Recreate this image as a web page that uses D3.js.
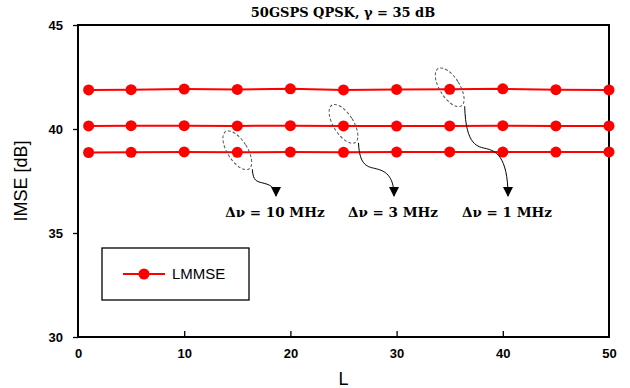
<!DOCTYPE html>
<html>
<head>
<meta charset="utf-8">
<script src="https://cdn.jsdelivr.net/npm/d3@7"></script>
<style>
body { margin: 0; background: #fff; }
svg text { fill: #000; }
</style>
</head>
<body>
<div id="chart"></div>
<script>
// L values and IMSE [dB] for the three linewidths
var Lvals = [1, 5, 10, 15, 20, 25, 30, 35, 40, 45, 50];
var imse1MHz = [41.88, 41.89, 41.92, 41.90, 41.93, 41.88, 41.90, 41.91, 41.93, 41.89, 41.88];
var imse3MHz = [40.15, 40.16, 40.16, 40.15, 40.16, 40.15, 40.14, 40.15, 40.16, 40.15, 40.15];
var imse10MHz = [38.87, 38.88, 38.90, 38.88, 38.89, 38.88, 38.89, 38.90, 38.89, 38.89, 38.90];
var xTicks = [0, 10, 20, 30, 40, 50];
var yTicks = [30, 35, 40, 45];
// annotations: which point is circled, and label
var notes = [
  {label: "Δν = 10 MHz", series: 2, idx: 3},
  {label: "Δν = 3 MHz", series: 1, idx: 5},
  {label: "Δν = 1 MHz", series: 0, idx: 7}
];

var w = 630, h = 388;
var pLeft = 78, pRight = 609, pTop = 25, pBottom = 337;

var svg = d3.select("#chart").append("svg")
  .attr("width", w).attr("height", h);

var xScale = d3.scaleLinear().domain([0, 50]).range([pLeft, pRight]);
var yScale = d3.scaleLinear().domain([30, 45]).range([pBottom, pTop]);

var allSeries = [imse1MHz, imse3MHz, imse10MHz];

//Create X axis (ticks pointing up inside)
var xAxis = d3.axisBottom(xScale).tickValues(xTicks).tickSizeInner(-6).tickSizeOuter(0).tickPadding(12);
var gx = svg.append("g")
  .attr("transform", "translate(0," + pBottom + ")")
  .call(xAxis);
gx.select(".domain").remove();
gx.selectAll("line").attr("stroke", "#000").attr("stroke-width", 1.3)
  .filter(function(d) { return d == 0 || d == 50; }).remove();
gx.selectAll("text")
  .attr("font-family", "Liberation Sans, Arial, sans-serif")
  .attr("font-weight", "bold").attr("font-size", 13);

//Create Y axis
var yAxis = d3.axisLeft(yScale).tickValues(yTicks).tickSizeInner(5).tickSizeOuter(0).tickPadding(10);
var gy = svg.append("g")
  .attr("transform", "translate(" + pLeft + ",0)")
  .call(yAxis);
gy.select(".domain").remove();
gy.selectAll("line").attr("stroke", "#000").attr("stroke-width", 1.3);
gy.selectAll("text")
  .attr("font-family", "Liberation Sans, Arial, sans-serif")
  .attr("font-weight", "bold").attr("font-size", 13);

// frame
svg.append("rect")
  .attr("x", pLeft).attr("y", pTop)
  .attr("width", pRight - pLeft).attr("height", pBottom - pTop)
  .attr("fill", "none").attr("stroke", "#000").attr("stroke-width", 2);

// lines
var line = d3.line()
  .x(function(d, i) { return xScale(Lvals[i]); })
  .y(function(d) { return yScale(d); });

allSeries.forEach(function(s) {
  svg.append("path")
    .datum(s)
    .attr("d", line)
    .attr("fill", "none")
    .attr("stroke", "#ff0000")
    .attr("stroke-width", 2);
  svg.append("g").selectAll("circle")
    .data(s)
    .enter()
    .append("circle")
    .attr("cx", function(d, i) { return xScale(Lvals[i]); })
    .attr("cy", function(d) { return yScale(d); })
    .attr("r", 5.5)
    .attr("fill", "#ff0000");
});

// arrow marker
svg.append("defs").append("marker")
  .attr("id", "arr")
  .attr("viewBox", "0 0 10 10")
  .attr("refX", 9).attr("refY", 5)
  .attr("markerWidth", 10).attr("markerHeight", 10)
  .attr("markerUnits", "userSpaceOnUse")
  .attr("orient", "auto")
  .append("path")
  .attr("d", "M0,0 L10,5 L0,10 z")
  .attr("fill", "#000");

// annotations
var serif = "DejaVu Serif, Liberation Serif, serif";
var textX = [275, 393, 507];
notes.forEach(function(n, k) {
  var s = allSeries[n.series];
  var cx = xScale(Lvals[n.idx]), cy = yScale(s[n.idx]);
  svg.append("ellipse")
    .attr("transform", "translate(" + cx + "," + (cy - 2) + ") rotate(-32)")
    .attr("rx", 10).attr("ry", 22)
    .attr("fill", "none")
    .attr("stroke", "#555")
    .attr("stroke-width", 1)
    .attr("stroke-dasharray", "3,2");
  var x0 = cx + 15, y0 = cy + 17;
  var tx = textX[k] + 1, ty = 196;
  var mx = (x0 + tx) / 2, my = y0 + (ty - y0) * 0.45;
  svg.append("path")
    .attr("d", "M" + x0 + "," + y0 +
      " C" + (x0 + 1) + "," + (my) + " " + (mx - 8) + "," + (my) + " " + mx + "," + (my + 2) +
      " S" + (tx) + "," + (my + 8) + " " + tx + "," + ty)
    .attr("fill", "none")
    .attr("stroke", "#000")
    .attr("stroke-width", 1)
    .attr("marker-end", "url(#arr)");
  svg.append("text")
    .attr("x", textX[k]).attr("y", 217)
    .attr("text-anchor", "middle")
    .attr("font-family", serif)
    .attr("font-weight", "bold")
    .attr("font-size", 13.5)
    .text(n.label);
});

// title
svg.append("text")
  .attr("x", 343).attr("y", 17)
  .attr("text-anchor", "middle")
  .attr("font-family", serif)
  .attr("font-weight", "bold")
  .attr("font-size", 13)
  .text("50GSPS QPSK, γ = 35 dB");

// axis titles
svg.append("text")
  .attr("text-anchor", "middle")
  .attr("transform", "translate(27," + ((pTop + pBottom) / 2) + ")rotate(-90)")
  .attr("font-family", "Liberation Sans, Arial, sans-serif")
  .attr("font-size", 18)
  .text("IMSE [dB]");

svg.append("text")
  .attr("text-anchor", "middle")
  .attr("x", (pLeft + pRight) / 2).attr("y", 385)
  .attr("font-family", "Liberation Sans, Arial, sans-serif")
  .attr("font-size", 18)
  .text("L");

// legend
var lg = svg.append("g").attr("transform", "translate(102,248)");
lg.append("rect")
  .attr("width", 147).attr("height", 52)
  .attr("fill", "#fff").attr("stroke", "#000").attr("stroke-width", 1.3);
lg.append("line")
  .attr("x1", 21).attr("x2", 63).attr("y1", 26).attr("y2", 26)
  .attr("stroke", "#ff0000").attr("stroke-width", 2);
lg.append("circle")
  .attr("cx", 42).attr("cy", 26).attr("r", 5.5).attr("fill", "#ff0000");
lg.append("text")
  .attr("x", 70).attr("y", 31)
  .attr("font-family", "Liberation Sans, Arial, sans-serif")
  .attr("font-size", 15)
  .text("LMMSE");
</script>
</body>
</html>
